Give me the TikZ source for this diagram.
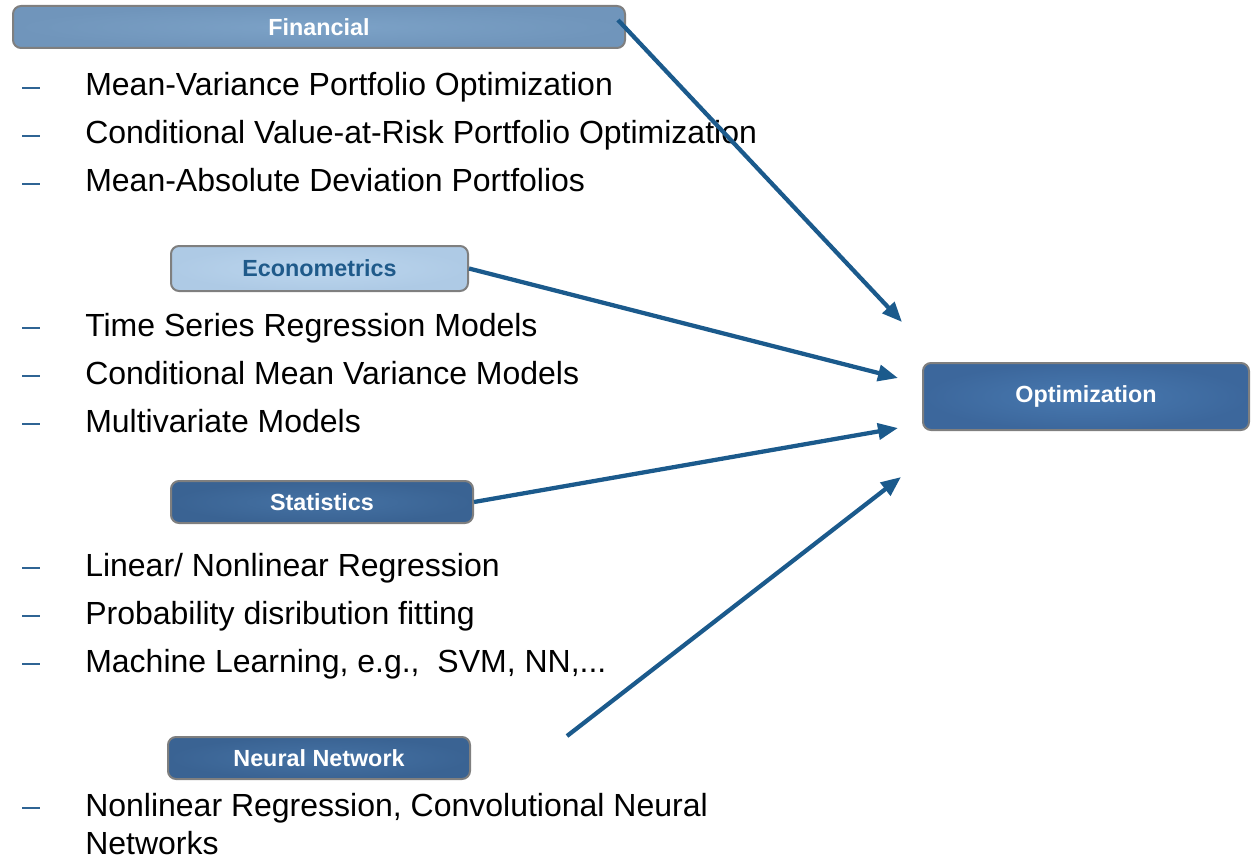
\documentclass[tikz,border=0pt]{standalone}
\usepackage{fontspec}
\setmainfont{Liberation Sans}
\usetikzlibrary{arrows.meta}

\definecolor{arrowblue}{HTML}{1B5A8C}
\definecolor{dashblue}{HTML}{2F6494}
\definecolor{boxedge}{HTML}{7F7F7F}
\definecolor{finin}{HTML}{7CA2C7}
\definecolor{finout}{HTML}{7095BB}
\definecolor{ecoin}{HTML}{BCD6EE}
\definecolor{ecoout}{HTML}{AECAE5}
\definecolor{ecotext}{HTML}{1F5A8A}
\definecolor{darkin}{HTML}{4572A4}
\definecolor{darkout}{HTML}{3A6393}
\definecolor{optin}{HTML}{4879B0}
\definecolor{optout}{HTML}{3C679C}

\tikzset{
  topicbox/.style={draw=boxedge, line width=1.5pt, rounded corners=6pt,
    font=\fontsize{17.5}{20}\selectfont\bfseries, text=white,
    inner sep=0pt, align=center},
  finbox/.style={topicbox, inner color=finin, outer color=finout},
  ecobox/.style={topicbox, inner color=ecoin, outer color=ecoout, text=ecotext},
  darkbox/.style={topicbox, inner color=darkin, outer color=darkout},
  optbox/.style={topicbox, inner color=optin, outer color=optout},
  item/.style={anchor=base west, inner sep=0pt, font=\fontsize{24}{28}\selectfont, text=black},
  bullet/.style={draw=dashblue, line width=1.6pt},
  flow/.style={draw=arrowblue, line width=3.2pt,
    -{Triangle[length=15pt,width=12pt]}},
}

\begin{document}
\begin{tikzpicture}[x=0.75pt, y=-0.75pt]
  \useasboundingbox (0,0) rectangle (1251,859);

  % topic boxes
  \node[finbox, minimum width=459pt, minimum height=31.5pt] (fin) at (319,27) {Financial};
  \node[ecobox, minimum width=222.75pt, minimum height=33.75pt] (eco) at (319.5,268.5) {Econometrics};
  \node[darkbox, minimum width=226.5pt, minimum height=31.5pt] (sta) at (322,502) {Statistics};
  \node[darkbox, minimum width=226.5pt, minimum height=31.5pt] (nn) at (319,758) {Neural Network};
  \node[optbox, minimum width=244.5pt, minimum height=50.25pt] (opt) at (1086,396.5) {Optimization};

  % bullet lists
  \foreach \b in {96,144,192, 336,384,432, 576,624,672, 816}
    \draw[bullet] (22,\b-8) -- (40,\b-8);

  \node[item] (f1) at (85,96)  {Mean-Variance Portfolio Optimization};
  \node[item] (f2) at (85,144) {Conditional Value-at-Risk Portfolio Optimization};
  \node[item] (f3) at (85,192) {Mean-Absolute Deviation Portfolios};

  \node[item] (e1) at (85,336) {Time Series Regression Models};
  \node[item] (e2) at (85,384) {Conditional Mean Variance Models};
  \node[item] (e3) at (85,432) {Multivariate Models};

  \node[item] (s1) at (85,576) {Linear/ Nonlinear Regression};
  \node[item] (s2) at (85,624) {Probability disribution fitting};
  \node[item] (s3) at (85,672) {Machine Learning, e.g.,\ \ SVM,\ NN,...};

  \node[item] (n1) at (85,816) {Nonlinear Regression, Convolutional Neural};
  \node[item] (n2) at (85,854) {Networks};

  % connectors into the optimization step
  \coordinate (finout) at (618,20);
  \coordinate (nnout) at (567,736);
  \coordinate (toA) at (902,322);
  \coordinate (toB) at (898,378);
  \coordinate (toC) at (898,428);
  \coordinate (toD) at (901,477);

  \draw[flow] (finout) -- (toA);
  \draw[flow] (eco.east) -- (toB);
  \draw[flow] (sta.east) -- (toC);
  \draw[flow] (nnout) -- (toD);
\end{tikzpicture}
\end{document}
